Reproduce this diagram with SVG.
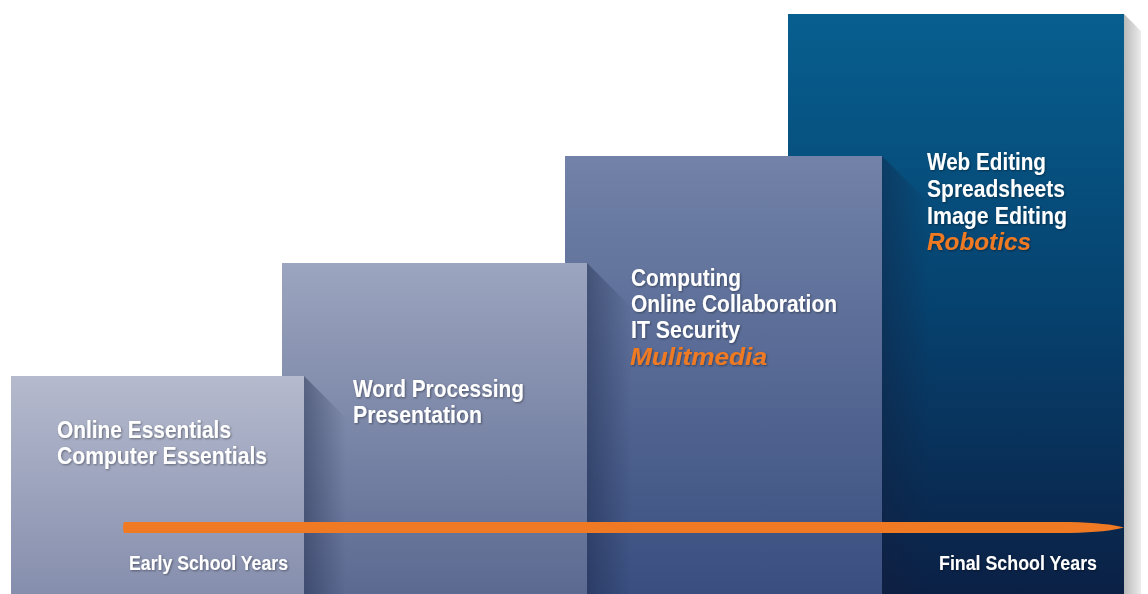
<svg xmlns="http://www.w3.org/2000/svg" width="1148" height="594" viewBox="0 0 1148 594">
<defs>
<linearGradient id="g1" x1="0" y1="0" x2="0" y2="1"><stop offset="0" stop-color="#b5bacd"/><stop offset="1" stop-color="#858ead"/></linearGradient>
<linearGradient id="g2" x1="0" y1="0" x2="0" y2="1"><stop offset="0" stop-color="#9ca5bf"/><stop offset="1" stop-color="#5b6991"/></linearGradient>
<linearGradient id="g3" x1="0" y1="0" x2="0" y2="1"><stop offset="0" stop-color="#7282a8"/><stop offset="1" stop-color="#3a4f80"/></linearGradient>
<linearGradient id="g4" x1="0" y1="0" x2="0" y2="1"><stop offset="0" stop-color="#075f8f"/><stop offset="0.5" stop-color="#06426f"/><stop offset="1" stop-color="#0b2045"/></linearGradient>
<linearGradient id="sh" x1="0" y1="0" x2="1" y2="0"><stop offset="0" stop-color="#14203f" stop-opacity="0.4"/><stop offset="1" stop-color="#14203f" stop-opacity="0"/></linearGradient>
<linearGradient id="side" x1="0" y1="0" x2="1" y2="0"><stop offset="0" stop-color="#b9b9b9"/><stop offset="1" stop-color="#ececec"/></linearGradient>
<filter id="ts" x="-5%" y="-20%" width="110%" height="140%"><feDropShadow dx="1" dy="1" stdDeviation="0.8" flood-color="#000" flood-opacity="0.4"/></filter>
</defs>
<style>
.t{font-family:"Liberation Sans",Arial,sans-serif;font-weight:bold;fill:#ffffff;font-size:24px;filter:url(#ts)}
.o{fill:#f07a23;font-style:italic}
.s{font-size:20px}
</style>
<rect x="0" y="0" width="1148" height="594" fill="#ffffff"/>
<g id="side-shadow"><polygon points="1124,14 1141,31 1141,594 1124,594" fill="url(#side)"/></g>
<g id="stage4">
<rect x="788" y="14" width="336" height="580" fill="url(#g4)"/>
<text class="t" x="927" y="170" textLength="119" lengthAdjust="spacingAndGlyphs">Web Editing</text>
<text class="t" x="927" y="197" textLength="138" lengthAdjust="spacingAndGlyphs">Spreadsheets</text>
<text class="t" x="927" y="224" textLength="140" lengthAdjust="spacingAndGlyphs">Image Editing</text>
<text class="t o" x="927" y="250" textLength="104" lengthAdjust="spacingAndGlyphs">Robotics</text>
</g>
<g id="stage3">
<polygon points="882,156 930,204 930,594 882,594" fill="url(#sh)"/>
<rect x="565" y="156" width="317" height="438" fill="url(#g3)"/>
<text class="t" x="631" y="286" textLength="110" lengthAdjust="spacingAndGlyphs">Computing</text>
<text class="t" x="631" y="312" textLength="206" lengthAdjust="spacingAndGlyphs">Online Collaboration</text>
<text class="t" x="631" y="338" textLength="109" lengthAdjust="spacingAndGlyphs">IT Security</text>
<text class="t o" x="630" y="365" textLength="137" lengthAdjust="spacingAndGlyphs">Mulitmedia</text>
</g>
<g id="stage2">
<polygon points="587,263 632,308 632,594 587,594" fill="url(#sh)"/>
<rect x="282" y="263" width="305" height="331" fill="url(#g2)"/>
<text class="t" x="353" y="397" textLength="171" lengthAdjust="spacingAndGlyphs">Word Processing</text>
<text class="t" x="353" y="423" textLength="129" lengthAdjust="spacingAndGlyphs">Presentation</text>
</g>
<g id="stage1">
<polygon points="304,376 346,418 346,594 304,594" fill="url(#sh)"/>
<rect x="11" y="376" width="293" height="218" fill="url(#g1)"/>
<text class="t" x="57" y="438" textLength="174" lengthAdjust="spacingAndGlyphs">Online Essentials</text>
<text class="t" x="57" y="464" textLength="210" lengthAdjust="spacingAndGlyphs">Computer Essentials</text>
</g>
<g id="connectors">
<path d="M124,522 L1070,522 Q1108,523 1124,527.5 Q1108,532 1070,533 L124,533 Q122,527.5 124,522 Z" fill="#f07a23"/>
</g>
<g id="labels">
<text class="t s" x="129" y="570" textLength="159" lengthAdjust="spacingAndGlyphs">Early School Years</text>
<text class="t s" x="939" y="570" textLength="158" lengthAdjust="spacingAndGlyphs">Final School Years</text>
</g>
</svg>
